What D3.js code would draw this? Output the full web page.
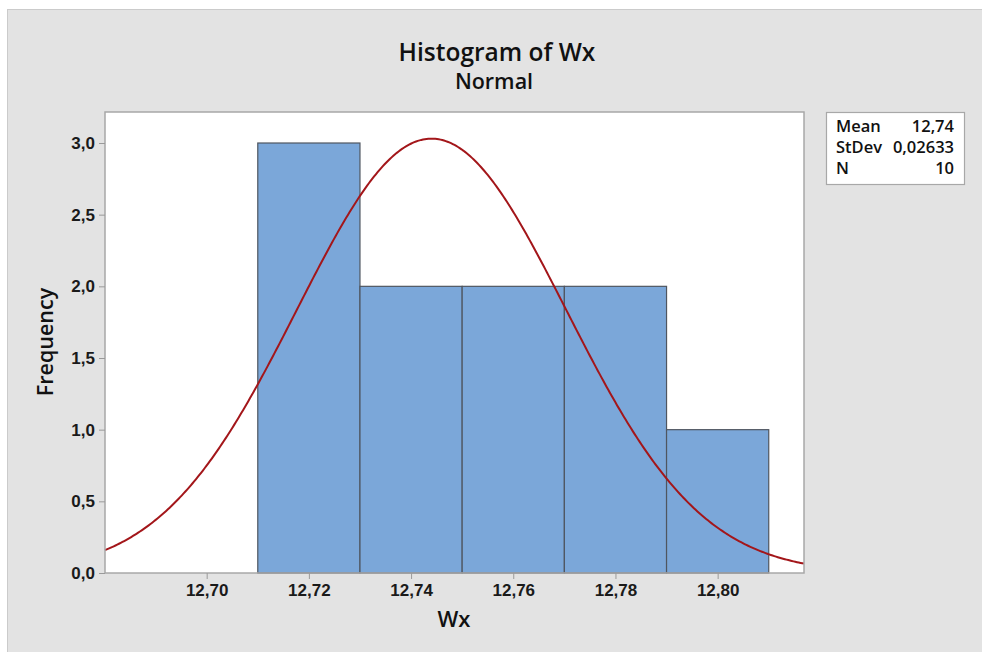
<!DOCTYPE html>
<html>
<head>
<meta charset="utf-8">
<script src="https://cdn.jsdelivr.net/npm/d3@7"></script>
<style>
  html, body { margin: 0; padding: 0; background: #ffffff; }
  svg { display: block; font-family: "Open Sans", "Noto Sans", sans-serif; }
</style>
</head>
<body>
<svg id="chart" width="982" height="652"></svg>
<script>
// Histogram bins (lower edge, upper edge) and counts
const binStarts = [12.69, 12.71, 12.73, 12.75, 12.77, 12.79];
const binEnds   = [12.71, 12.73, 12.75, 12.77, 12.79, 12.81];
const counts    = [0, 3, 2, 2, 2, 1];

// Summary statistics
const statLabels = ["Mean", "StDev", "N"];
const statValues = ["12,74", "0,02633", "10"];
const fitMean = 12.744;
const fitStDev = 0.02633;
const sampleN = 10;

// Axis ticks
const xTicks = [12.70, 12.72, 12.74, 12.76, 12.78, 12.80];
const yTicks = [0, 0.5, 1.0, 1.5, 2.0, 2.5, 3.0];

const svg = d3.select("#chart");
const W = 982, H = 652;
const plot = { left: 105, right: 804, top: 112, bottom: 573 };

const fmtComma = (v, d) => v.toFixed(d).replace(".", ",");

// Outer panel
svg.append("rect")
  .attr("x", 7.5).attr("y", 9.5)
  .attr("width", W).attr("height", H)
  .attr("fill", "#e3e3e3").attr("stroke", "#cbcbcb");

const x = d3.scaleLinear().domain([12.6801, 12.8169]).range([plot.left, plot.right]);
const y = d3.scaleLinear().domain([0, 3.2163]).range([plot.bottom, plot.top]);

// Plot area
svg.append("rect")
  .attr("x", plot.left).attr("y", plot.top)
  .attr("width", plot.right - plot.left).attr("height", plot.bottom - plot.top)
  .attr("fill", "#ffffff");

// Bars
svg.append("g").selectAll("rect")
  .data(counts)
  .join("rect")
  .attr("x", (d, i) => x(binStarts[i]))
  .attr("y", d => y(d))
  .attr("width", (d, i) => x(binEnds[i]) - x(binStarts[i]))
  .attr("height", d => y(0) - y(d))
  .attr("fill", "#7ba7d9")
  .attr("stroke", "#4f5660")
  .attr("stroke-width", 1.2);

// Fitted normal curve, scaled to counts
const binWidth = binEnds[0] - binStarts[0];
const dens = v => sampleN * binWidth * Math.exp(-0.5 * ((v - fitMean) / fitStDev) ** 2) / (fitStDev * Math.sqrt(2 * Math.PI));
const xs = d3.range(0, 401).map(i => x.domain()[0] + (x.domain()[1] - x.domain()[0]) * i / 400);
svg.append("path")
  .datum(xs)
  .attr("d", d3.line().x(v => x(v)).y(v => y(dens(v))))
  .attr("fill", "none")
  .attr("stroke", "#a3161a")
  .attr("stroke-width", 2);

// Frame around the plot area
svg.append("rect")
  .attr("x", plot.left).attr("y", plot.top)
  .attr("width", plot.right - plot.left).attr("height", plot.bottom - plot.top)
  .attr("fill", "none").attr("stroke", "#a8a8a8").attr("stroke-width", 1.5);

// Axes
const xAxis = svg.append("g")
  .attr("transform", `translate(0,${plot.bottom})`)
  .call(d3.axisBottom(x).tickValues(xTicks).tickSize(6).tickPadding(5).tickFormat(d => fmtComma(d, 2)));
const yAxis = svg.append("g")
  .attr("transform", `translate(${plot.left},0)`)
  .call(d3.axisLeft(y).tickValues(yTicks).tickSize(6).tickPadding(4).tickFormat(d => fmtComma(d, 1)));

[xAxis, yAxis].forEach(g => {
  g.select(".domain").remove();
  g.selectAll(".tick line").attr("stroke", "#9a9a9a");
  g.selectAll(".tick text")
    .attr("fill", "#1a1a1a")
    .style("font-size", "17px")
    .style("font-weight", "600");
});

// Titles
svg.append("text")
  .attr("x", 497).attr("y", 61)
  .attr("text-anchor", "middle")
  .style("font-size", "24.5px").style("font-weight", "600")
  .attr("fill", "#111")
  .text("Histogram of Wx");
svg.append("text")
  .attr("x", 494).attr("y", 89)
  .attr("text-anchor", "middle")
  .style("font-size", "21.5px").style("font-weight", "600")
  .attr("fill", "#111")
  .text("Normal");

// Axis labels
svg.append("text")
  .attr("x", 454).attr("y", 627)
  .attr("text-anchor", "middle")
  .style("font-size", "22px").style("font-weight", "600")
  .attr("fill", "#111")
  .text("Wx");
svg.append("text")
  .attr("transform", "translate(53,342) rotate(-90)")
  .attr("text-anchor", "middle")
  .style("font-size", "21.5px").style("font-weight", "600")
  .attr("fill", "#111")
  .text("Frequency");

// Statistics box
const box = { x: 826, y: 112, w: 138, h: 72 };
svg.append("rect")
  .attr("x", box.x + 0.5).attr("y", box.y + 0.5)
  .attr("width", box.w).attr("height", box.h)
  .attr("fill", "#ffffff").attr("stroke", "#a8a8a8").attr("stroke-width", 1.2);
const rows = svg.append("g").selectAll("g")
  .data(statLabels)
  .join("g")
  .attr("transform", (d, i) => `translate(0,${box.y + 20 + i * 21})`);
rows.append("text")
  .attr("x", box.x + 10)
  .style("font-size", "16.5px").style("font-weight", "600")
  .attr("fill", "#111")
  .text(d => d);
rows.append("text")
  .attr("x", box.x + box.w - 10)
  .attr("text-anchor", "end")
  .style("font-size", "16.5px").style("font-weight", "600")
  .attr("fill", "#111")
  .text((d, i) => statValues[i]);
</script>
</body>
</html>
